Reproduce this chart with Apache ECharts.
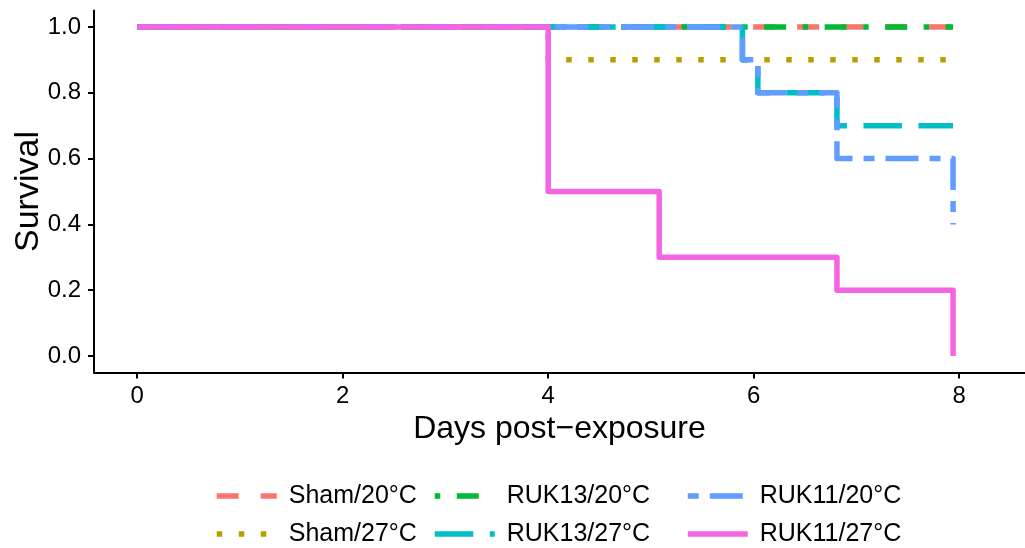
<!DOCTYPE html>
<html>
<head>
<meta charset="utf-8">
<script src="https://cdn.jsdelivr.net/npm/echarts@6/dist/echarts.min.js"></script>
<style>
  html, body { margin: 0; padding: 0; background: #fff; }
  #chart { width: 1025px; height: 548px; }
</style>
</head>
<body>
<div id="chart"></div>
<script>
// ---- Data ----
const groupNames = ['Sham/20°C', 'Sham/27°C', 'RUK13/20°C', 'RUK13/27°C', 'RUK11/20°C', 'RUK11/27°C'];

const timesSham20  = [0, 7.94];
const survSham20   = [1.0, 1.0];

const timesSham27  = [0, 4.0, 7.94];
const survSham27   = [1.0, 0.9, 0.9];

const timesRUK13_20 = [0, 7.94];
const survRUK13_20  = [1.0, 1.0];

const timesRUK13_27 = [0, 5.89, 6.04, 6.81, 7.94];
const survRUK13_27  = [1.0, 0.9, 0.8, 0.7, 0.7];

const timesRUK11_20 = [0, 5.89, 6.04, 6.81, 7.94];
const survRUK11_20  = [1.0, 0.9, 0.8, 0.6, 0.4];

const timesRUK11_27 = [0, 4.0, 5.08, 6.81, 7.94];
const survRUK11_27  = [1.0, 0.5, 0.3, 0.2, 0.0];

const xTicks = [0, 2, 4, 6, 8];
const yTicks = [0, 0.2, 0.4, 0.6, 0.8, 1.0];

// ---- Styles ----
const colors = ['#F8766D', '#B79F00', '#00BA38', '#00BFC4', '#619CFF', '#F564E3'];
const dashes = [[22, 22], [5.5, 16.5], [5.5, 16.5, 22, 16.5], [38.5, 16.5], [11, 11, 33, 11], 'solid'];
const timesAll = [timesSham20, timesSham27, timesRUK13_20, timesRUK13_27, timesRUK11_20, timesRUK11_27];
const survAll = [survSham20, survSham27, survRUK13_20, survRUK13_27, survRUK11_20, survRUK11_27];

const FONT = '"Liberation Sans", Arial, Helvetica, sans-serif';
const LW = 5.5;

const series = groupNames.map((name, i) => ({
  name: name,
  type: 'line',
  step: 'end',
  symbol: 'none',
  showSymbol: false,
  data: timesAll[i].map((t, j) => [t, survAll[i][j]]),
  lineStyle: { color: colors[i], width: LW, type: dashes[i], cap: 'butt', join: 'round' },
  itemStyle: { color: colors[i] },
  emphasis: { disabled: true },
  z: 2 + i
}));

// legend: 2 rows x 3 columns, column-major
const legendCols = [214, 432, 685];
const legendRows = [483.5, 521.5];
const legends = groupNames.map((name, i) => ({
  data: [name],
  left: legendCols[Math.floor(i / 2)],
  top: legendRows[i % 2],
  orient: 'horizontal',
  padding: 0,
  itemWidth: 60,
  itemHeight: 14,
  selectedMode: false,
  lineStyle: { width: LW },
  itemStyle: { color: 'rgba(0,0,0,0)', borderWidth: 0, opacity: 0 },
  textStyle: { fontFamily: FONT, fontSize: 25, color: '#000', padding: [0, 0, 0, 7] }
}));

const chart = echarts.init(document.getElementById('chart'), null, { renderer: 'canvas' });
chart.setOption({
  animation: false,
  backgroundColor: '#fff',
  grid: { left: 94, right: 0, top: 10.5, bottom: 175.5, containLabel: false, outerBoundsMode: 'none' },
  legend: legends,
  xAxis: {
    type: 'value',
    min: -0.42,
    max: 8.64,
    name: 'Days post\u2212exposure',
    nameLocation: 'middle',
    nameGap: 41,
    nameMoveOverlap: false,
    nameTextStyle: { fontFamily: FONT, fontSize: 32, color: '#000' },
    axisLine: { show: true, onZero: false, lineStyle: { color: '#000', width: 2 } },
    axisTick: { show: true, length: 6, customValues: xTicks, lineStyle: { color: '#000', width: 2 } },
    axisLabel: { customValues: xTicks, margin: 12, fontFamily: FONT, fontSize: 24, color: '#000',
                 formatter: v => String(v) },
    splitLine: { show: false }
  },
  yAxis: {
    type: 'value',
    min: -0.05,
    max: 1.05,
    name: 'Survival',
    nameLocation: 'middle',
    nameRotate: 90,
    nameGap: 48,
    nameMoveOverlap: false,
    nameTextStyle: { fontFamily: FONT, fontSize: 34, color: '#000' },
    axisLine: { show: true, onZero: false, lineStyle: { color: '#000', width: 2 } },
    axisTick: { show: true, length: 6, customValues: yTicks, lineStyle: { color: '#000', width: 2 } },
    axisLabel: { customValues: yTicks, margin: 13, fontFamily: FONT, fontSize: 24, color: '#000',
                 formatter: v => Number(v).toFixed(1) },
    splitLine: { show: false }
  },
  series: series
});
</script>
</body>
</html>
